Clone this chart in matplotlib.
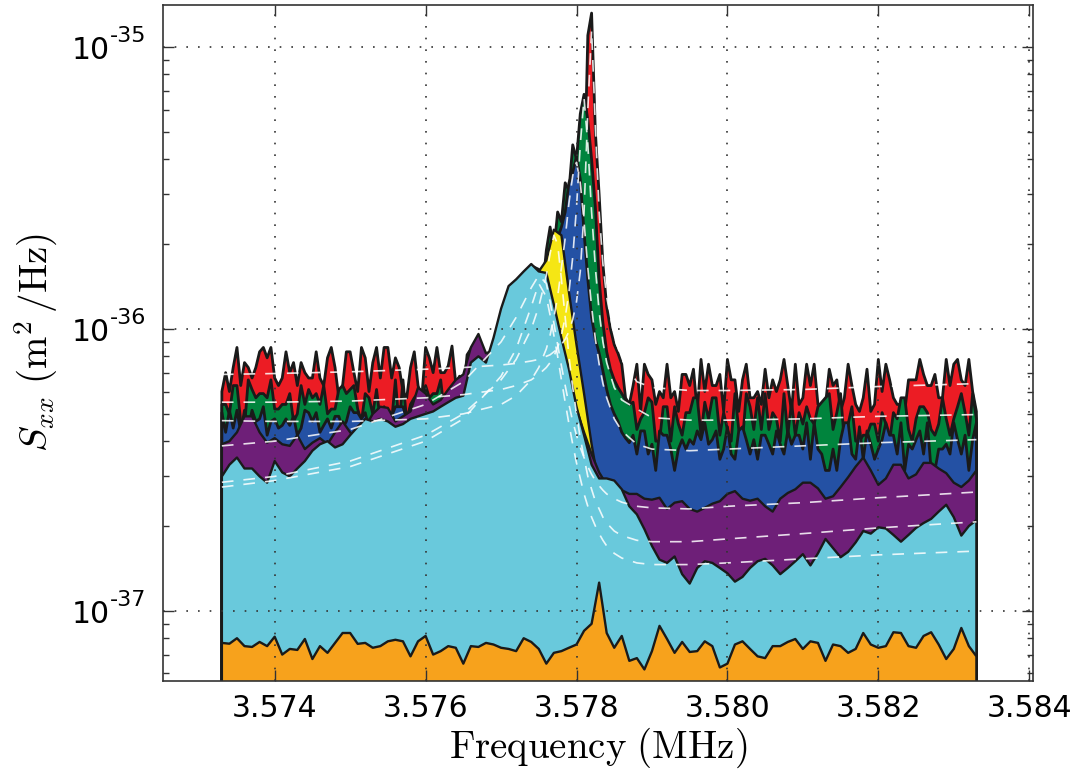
import numpy as np
import matplotlib
matplotlib.use('Agg')
import matplotlib.pyplot as plt
from matplotlib.ticker import FixedLocator, FormatStrFormatter, LogLocator, NullFormatter

plt.rcParams['mathtext.fontset'] = 'cm'
plt.rcParams['font.family'] = 'DejaVu Sans'

UNIT = 1e-37  # all spectra below are in units of 1e-37 m^2/Hz

# frequency bins (MHz): fine bins for the three strongest drives, coarse for the rest
freq_fine = np.linspace(3.5733, 3.5833, 201)
freq = np.linspace(3.5733, 3.5833, 101)

red = [6.0, 7.0, 6.0, 7.3, 8.6, 6.3, 7.6, 7.3, 6.7, 7.3,
       8.3, 8.6, 7.9, 8.6, 6.7, 6.3, 6.7, 8.3, 7.0, 7.6,
       6.3, 7.6, 7.0, 6.7, 6.7, 8.3, 6.7, 6.3, 7.9, 8.6,
       7.3, 5.7, 6.3, 8.3, 8.3, 7.0, 6.0, 8.6, 7.9, 6.0,
       7.6, 8.6, 6.7, 8.6, 8.6, 6.7, 7.9, 7.3, 6.0, 5.7,
       7.3, 8.3, 6.3, 5.7, 8.6, 7.9, 7.0, 8.6, 7.0, 7.0,
       7.4, 8.7, 6.4, 6.8, 5.9, 8.1, 8.5, 6.2, 7.8, 7.3,
       6.2, 8.1, 6.8, 8.8, 8.1, 6.8, 6.3, 8.9, 9.2, 9.2,
       9.2, 8.5, 7.2, 9.2, 6.7, 7.6, 8.0, 9.3, 7.5,
       9.6, 9.1, 10.2, 11.0, 11.8, 13.5, 18.0, 30.0,
       110, 132, 50, 30, 17, 12, 10, 8.8, 8.2,
       7.5, 5.7, 5.4, 6.3, 7.5, 5.1, 7.5, 6.9, 6.6, 5.4,
       6.0, 5.7, 7.5, 5.7, 6.0, 5.1, 6.9, 6.9, 6.3, 7.2,
       5.1, 7.8, 6.0, 7.5, 6.3, 6.3, 6.9, 5.1, 7.8, 6.6,
       6.6, 5.1, 6.6, 7.5, 5.7, 5.7, 6.0, 5.4, 7.2, 5.7,
       6.6, 6.0, 6.6, 7.8, 6.3, 5.1, 7.5, 5.4, 5.7, 7.5,
       6.3, 7.5, 5.4, 5.4, 5.4, 7.2, 6.3, 6.6, 5.1, 5.7,
       7.5, 6.3, 5.4, 5.1, 5.7, 7.2, 5.1, 5.4, 7.8, 6.0,
       7.5, 6.6, 5.7, 5.4, 5.4, 5.1, 6.6, 6.6, 6.6, 7.8,
       6.9, 6.3, 6.3, 6.9, 5.7, 5.7, 7.8, 6.3, 7.5, 7.8,
       6.6, 6.3, 7.8, 6.0, 5.1]

green = [5.4, 5.4, 5.0, 6.3, 6.3, 4.7, 4.5, 6.6, 6.1, 5.7,
         5.9, 5.9, 5.7, 6.6, 5.2, 5.2, 5.4, 5.4, 5.9, 4.7,
         5.0, 6.3, 5.4, 6.1, 5.7, 5.9, 5.4, 6.3, 5.0, 5.2,
         5.2, 6.1, 6.3, 5.9, 6.1, 6.3, 5.2, 4.7, 5.9, 5.7,
         5.0, 6.1, 4.7, 5.0, 4.5, 4.7, 6.6, 4.5, 6.6, 4.7,
         5.4, 5.7, 5.9, 5.4, 6.3, 5.7, 5.9, 5.9, 6.6, 5.0,
         5.6, 5.8, 6.3, 4.9, 5.6, 5.8, 6.7, 6.3, 5.1, 4.9,
         6.3, 6.6, 6.3, 6.1, 5.9, 6.8, 6.8, 6.3, 7.2, 5.9,
         7.8, 9.1, 8.7, 10.8, 10.6, 13.8,
         19, 23, 19, 26, 24, 33, 31, 45, 40, 58, 68,
         55, 40, 27, 15, 10.5, 8.3, 7.2, 6.6, 6.2, 5.9, 5.6, 5.4,
         5.5, 4.4, 4.8, 5.05, 5.7, 5.5, 4.0, 4.0, 5.3, 5.3,
         4.0, 5.3, 4.6, 4.2, 5.05, 5.05, 5.7, 5.7, 4.2, 5.5,
         4.8, 5.7, 5.7, 4.2, 5.05, 4.4, 4.0, 5.9, 4.4, 4.0,
         5.9, 5.3, 4.4, 5.7, 4.4, 5.9, 4.4, 5.05, 4.8, 4.0,
         5.9, 4.2, 5.5, 4.2, 5.05, 4.6, 5.3, 4.8, 4.6, 5.3,
         5.5, 5.7, 5.9, 4.4, 5.05, 5.9, 4.0, 4.6, 5.3, 4.0,
         4.0, 4.2, 4.2, 4.6, 4.6, 4.0, 5.05, 4.6, 4.0, 5.05,
         4.8, 5.7, 5.7, 4.4, 4.0, 4.8, 5.3, 5.3, 5.05, 4.4,
         4.2, 4.6, 5.7, 4.8, 4.2, 4.8, 5.3, 5.9, 5.05, 4.2,
         5.9, 4.8]

blue = [5.05, 4.3, 5.15, 4.45, 5.15, 4.3, 5.15, 4.45, 5.15, 4.7,
        4.8, 5.3, 4.2, 4.7, 4.8, 4.45, 4.55, 4.8, 4.55, 4.9,
        4.2, 4.45, 5.15, 5.05, 4.7, 5.05, 4.3, 4.55, 4.8, 4.45,
        4.9, 4.9, 4.45, 4.7, 5.3, 5.05, 5.05, 4.8, 5.05, 4.45,
        4.7, 5.05, 4.2, 5.3, 4.55, 4.9, 5.3, 5.3, 5.3, 4.8,
        5.3, 4.8, 5.05, 4.7, 5.3, 4.9, 4.9, 5.3, 4.9, 5.05,
        5.5, 5.9, 5.4, 5.7, 6.1, 5.8, 6.0, 6.4, 6.1, 6.5,
        6.8, 6.6, 7.1, 7.4, 7.2, 7.9, 8.2, 8.6, 9.3, 9.8,
        10.5, 11.3, 12.2, 13.4, 14.8, 16.0, 17.5, 18.8, 20.0, 21.0,
        23, 26, 33, 36, 41, 34, 22,
        15, 11, 9.2, 8.2, 7.1, 6.1, 5.4, 5.0, 4.7, 4.3, 4.1, 3.95,
        4.2, 3.6, 4.35, 4.35, 3.6, 3.9, 3.15, 4.35, 4.2, 4.2,
        3.75, 3.15, 3.75, 4.05, 3.75, 4.05, 3.9, 4.35, 4.05, 4.65,
        3.9, 4.05, 4.35, 3.45, 3.75, 4.5, 3.6, 3.45, 4.35, 4.5,
        4.05, 3.6, 4.05, 3.45, 4.2, 4.2, 3.9, 3.6, 4.35, 3.9,
        3.6, 4.35, 3.9, 4.2, 4.2, 3.75, 4.65, 3.45, 4.65, 3.75,
        3.6, 3.15, 3.15, 3.75, 3.15, 4.05, 4.65, 4.65, 3.6, 3.45,
        4.5, 3.45, 4.35, 3.9, 3.45, 3.75, 4.05, 4.65, 4.2, 4.2,
        3.6, 4.65, 3.15, 3.9, 3.75, 4.05, 4.35, 3.6, 4.65, 3.15,
        3.15, 3.75, 3.75, 3.9, 3.6, 4.65, 4.05, 3.6, 4.2, 3.15,
        4.05, 4.65]

yellow = [2.70, 2.74, 2.73, 2.79, 2.80, 2.84, 2.83, 2.90, 2.91, 2.95,
          2.97, 3.02, 3.03, 3.10, 3.12, 3.18, 3.21, 3.29, 3.33, 3.41,
          3.46, 3.56, 3.62, 3.74, 3.81, 3.95, 4.04, 4.20, 4.31, 4.50,
          4.66, 4.88, 5.10, 5.42, 5.80, 6.30, 7.00, 8.00, 9.30, 11.0,
          13.0, 15.0, 16.0, 17.5, 22.5, 21.5, 13.5, 8.8, 5.9, 3.9,
          2.75, 2.30, 2.12, 2.01, 1.96, 1.89, 1.87, 1.82, 1.81, 1.77,
          1.78, 1.75, 1.77, 1.76, 1.78, 1.76, 1.79, 1.78, 1.81, 1.80,
          1.83, 1.82, 1.85, 1.84, 1.87, 1.86, 1.89, 1.88, 1.91, 1.90,
          1.93, 1.92, 1.95, 1.94, 1.97, 1.96, 1.99, 1.98, 2.01, 2.00,
          2.03, 2.02, 2.05, 2.04, 2.06, 2.05, 2.07, 2.06, 2.08, 2.07, 2.09]

purple = [3.9, 4.0, 4.3, 4.9, 4.9, 4.3, 3.95, 4.1, 3.9, 3.85,
          4.2, 3.75, 3.95, 4.1, 3.9, 4.3, 4.7, 4.3, 4.0, 4.5,
          5.0, 5.3, 5.25, 4.7, 4.9, 5.1, 6.2, 5.9, 5.4, 5.6,
          6.1, 6.6, 6.9, 8.6, 9.6, 8.2, 8.4, 10.5, 13.0, 14.5,
          15.8, 16.8, 16.3, 14.5, 11.0, 8.5, 6.6, 5.2, 4.3, 3.6,
          3.1, 2.8, 2.75, 2.68, 2.6, 2.6, 2.5, 2.48, 2.52, 2.3,
          2.42, 2.45, 2.3, 2.25, 2.32, 2.4, 2.45, 2.6, 2.66, 2.5,
          2.46, 2.5, 2.35, 2.25, 2.5, 2.62, 2.7, 2.85, 2.85, 2.72,
          2.5, 2.55, 2.75, 2.98, 3.25, 3.5, 3.15, 2.8, 2.95, 3.3,
          3.3, 2.95, 3.05, 3.35, 3.35, 3.2, 3.08, 2.85, 2.75, 2.9, 3.15]

cyan = [3.0, 3.3, 3.5, 3.2, 3.2, 3.0, 2.85, 3.4, 3.1, 3.0,
        3.2, 3.4, 3.7, 3.9, 4.0, 3.8, 3.9, 4.2, 4.5, 4.8,
        4.7, 4.8, 4.7, 4.5, 4.6, 4.8, 4.9, 5.0, 5.1, 5.3,
        5.5, 5.7, 5.8, 7.6, 8.0, 7.6, 9.3, 11.8, 14.2, 15.0,
        16.0, 17.0, 16.0, 15.8, 12.2, 9.3, 7.2, 5.3, 4.2, 3.3,
        2.95, 2.95, 2.9, 2.7, 2.35, 2.2, 1.95, 1.7, 1.52, 1.48,
        1.56, 1.35, 1.25, 1.42, 1.5, 1.48, 1.42, 1.36, 1.27, 1.32,
        1.42, 1.5, 1.53, 1.45, 1.35, 1.42, 1.5, 1.59, 1.45, 1.6,
        1.8, 1.67, 1.55, 1.62, 1.75, 1.92, 1.88, 1.98, 1.96, 1.86,
        1.76, 1.86, 1.97, 2.05, 2.12, 2.25, 2.38, 2.15, 1.85, 2.0, 2.1]

orange = [0.77, 0.765, 0.80, 0.75, 0.745, 0.776, 0.75, 0.81, 0.70, 0.733,
          0.727, 0.795, 0.675, 0.75, 0.71, 0.77, 0.835, 0.835, 0.764, 0.77,
          0.74, 0.75, 0.78, 0.79, 0.78, 0.69, 0.78, 0.815, 0.70, 0.72,
          0.75, 0.74, 0.65, 0.75, 0.745, 0.77, 0.76, 0.74, 0.733, 0.72,
          0.80, 0.776, 0.733, 0.65, 0.71, 0.72, 0.74, 0.76, 0.85, 0.90,
          1.26, 0.835, 0.74, 0.815, 0.665, 0.68, 0.62, 0.72, 0.885, 0.795,
          0.71, 0.776, 0.715, 0.72, 0.78, 0.75, 0.63, 0.65, 0.76, 0.78,
          0.733, 0.69, 0.68, 0.75, 0.75, 0.776, 0.795, 0.733, 0.78, 0.77,
          0.665, 0.76, 0.75, 0.71, 0.733, 0.835, 0.76, 0.74, 0.75, 0.84,
          0.835, 0.75, 0.74, 0.815, 0.84, 0.76, 0.675, 0.733, 0.87, 0.75, 0.69]

# fitted response curves (white dashed)
fit_freq = [3.5733, 3.5740, 3.5750, 3.5760, 3.5765, 3.5770, 3.5772, 3.5774, 3.5775, 3.5776,
            3.57765, 3.5777, 3.57775, 3.5778, 3.57785, 3.5779, 3.57795, 3.5780, 3.57805, 3.5781,
            3.57815, 3.5782, 3.57825, 3.5783, 3.57835, 3.5784, 3.5785, 3.5786, 3.5788, 3.5790,
            3.5795, 3.5800, 3.5810, 3.5820, 3.5833]
fit_red = [6.9, 6.95, 7.05, 7.2, 7.3, 7.45, 7.55, 7.7, 7.8, 8.0,
           8.1, 8.3, 8.5, 8.8, 9.2, 9.8, 10.8, 12.5, 16, 26,
           60, 115, 52, 26, 17, 13, 9.4, 7.8, 6.5, 6.2,
           6.05, 6.05, 6.1, 6.25, 6.4]
fit_green = [5.5, 5.5, 5.55, 5.7, 5.85, 6.1, 6.3, 6.6, 6.9, 7.3,
             7.6, 8.0, 8.6, 9.5, 11, 13.5, 18, 27, 45, 66,
             45, 26, 16.5, 11.5, 9.0, 7.6, 6.2, 5.6, 5.2, 4.85,
             4.75, 4.75, 4.8, 4.9, 4.97]
fit_blue = [4.73, 4.7, 4.7, 4.8, 5.0, 5.4, 5.8, 6.6, 7.3, 8.5,
            9.5, 11, 13, 16.5, 21, 28, 35, 39, 33, 24,
            16.5, 12, 9.2, 7.5, 6.4, 5.7, 4.8, 4.35, 3.9, 3.75,
            3.7, 3.75, 3.85, 3.95, 4.05]
fit_purple = [3.85, 4.0, 4.4, 5.4, 6.5, 9.0, 11, 14, 15.5, 14.5,
              12.5, 10.5, 8.8, 7.4, 6.3, 5.4, 4.7, 4.2, 3.8, 3.5,
              3.25, 3.05, 2.9, 2.78, 2.68, 2.6, 2.5, 2.43, 2.35, 2.32,
              2.3, 2.35, 2.42, 2.52, 2.64]
fit_yellow = [2.86, 3.0, 3.4, 4.2, 5.0, 6.6, 7.8, 10.0, 12.0, 15.5,
              18.5, 21.5, 20, 15, 11, 8.0, 6.2, 5.0, 4.1, 3.5,
              3.0, 2.7, 2.45, 2.3, 2.15, 2.05, 1.92, 1.85, 1.78, 1.76,
              1.76, 1.8, 1.88, 1.97, 2.07]
fit_cyan = [2.75, 2.9, 3.25, 4.0, 4.8, 6.8, 8.5, 12.0, 14.5, 13.0,
            11.2, 9.5, 8.0, 6.6, 5.5, 4.6, 3.9, 3.35, 2.95, 2.6,
            2.35, 2.15, 2.0, 1.88, 1.78, 1.7, 1.6, 1.54, 1.48, 1.46,
            1.46, 1.48, 1.53, 1.58, 1.63]

xticks = [3.574, 3.576, 3.578, 3.580, 3.582, 3.584]
ytick_exponents = [-37, -36, -35]

fig = plt.figure(figsize=(10.81, 7.69), dpi=100)
ax = fig.add_axes([0.1508, 0.1144, 0.8048, 0.8791])
ax.set_yscale('log')

# filled spectra, largest first so the smaller ones sit on top;
# the noisy high-drive traces get a slightly heavier outline
layers = [(freq_fine, red, '#ec1c24', 2.0),
          (freq_fine, green, '#00843d', 2.0),
          (freq_fine, blue, '#2451a4', 2.0),
          (freq, yellow, '#f5e614', 1.7),
          (freq, purple, '#6e1f78', 1.7),
          (freq, cyan, '#69c9dc', 1.7),
          (freq, orange, '#f7a21c', 1.7)]
for f, vals, c, lw in layers:
    ax.fill_between(f, 1e-40, np.array(vals) * UNIT, facecolor=c,
                    edgecolor='#1a1a1a', linewidth=lw, joinstyle='round')

for fit in (fit_red, fit_green, fit_blue, fit_purple, fit_yellow, fit_cyan):
    ax.plot(fit_freq, np.array(fit) * UNIT, color='white', lw=1.2,
            dashes=(7, 6), alpha=0.85)

ax.set_xlim(3.57252, 3.58405)
ax.set_ylim(5.64e-38, 1.41e-35)

ax.xaxis.set_major_locator(FixedLocator(xticks))
ax.xaxis.set_major_formatter(FormatStrFormatter('%.3f'))
ax.set_yticks([10.0 ** e for e in ytick_exponents])
ax.yaxis.set_minor_locator(LogLocator(base=10, subs=np.arange(2, 10)))
ax.yaxis.set_major_formatter(NullFormatter())
ax.yaxis.set_minor_formatter(NullFormatter())

ax.tick_params(which='both', direction='in', top=True, right=True, width=1.0, color='#333333')
ax.tick_params(which='major', length=8)
ax.tick_params(which='minor', length=4.5)
ax.tick_params(axis='x', labelsize=21.5, pad=9)

# y tick labels as "10" with a hyphen exponent
for e in ytick_exponents:
    ax.annotate('10', xy=(0, 10.0 ** e), xycoords=('axes fraction', 'data'),
                xytext=(-38, -8.6), textcoords='offset points',
                ha='right', va='baseline', fontsize=21.5)
    ax.annotate(str(e), xy=(0, 10.0 ** e), xycoords=('axes fraction', 'data'),
                xytext=(-12.2, 3.6), textcoords='offset points',
                ha='right', va='baseline', fontsize=16)

ax.grid(True, which='major', color='#333333', linestyle=(0, (1, 6)), linewidth=1.2)
ax.set_axisbelow(False)

for s in ax.spines.values():
    s.set_color('#333333')
    s.set_linewidth(1.2)

ax.set_xlabel(r'$\mathrm{Frequency\ (MHz)}$', fontsize=28)
ax.set_ylabel(r'$S_{xx}\ (\mathrm{m}^2\,/\mathrm{Hz})$', fontsize=28)
ax.xaxis.set_label_coords(0.5, -0.066)
ax.yaxis.set_label_coords(-0.118, 0.5)

fig.savefig('out.png', dpi=100)
